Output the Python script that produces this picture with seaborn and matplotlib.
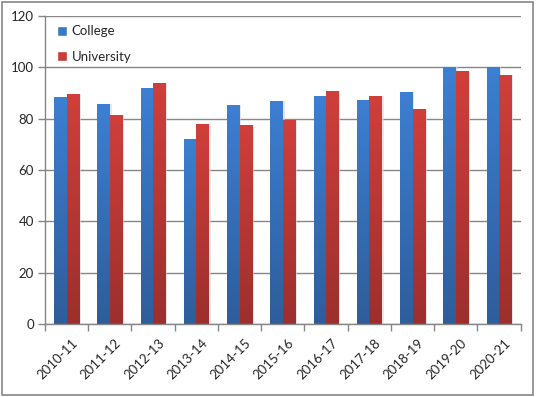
import numpy as np
import pandas as pd
import matplotlib
matplotlib.use("Agg")
import matplotlib.pyplot as plt
import seaborn as sns
from matplotlib.patches import Rectangle
from matplotlib.colors import LinearSegmentedColormap
from matplotlib.transforms import ScaledTranslation

# values
years = ["2010-11", "2011-12", "2012-13", "2013-14", "2014-15", "2015-16",
         "2016-17", "2017-18", "2018-19", "2019-20", "2020-21"]
college = [88.4, 85.7, 91.9, 72.1, 85.3, 86.9, 88.8, 87.3, 90.4, 100.0, 100.0]
university = [89.6, 81.4, 93.9, 77.9, 77.5, 79.6, 90.9, 88.8, 83.8, 98.6, 97.0]
series = ["College", "University"]

df = pd.DataFrame({
    "year": years * 2,
    "value": college + university,
    "group": ["College"] * len(years) + ["University"] * len(years),
})

sns.set_style("white")
plt.rcParams["font.family"] = ["Lato", "DejaVu Sans"]

grid_c = "#868686"
fig = plt.figure(figsize=(5.36, 3.97), dpi=100)
ax = fig.add_axes([45 / 536, 1 - 324 / 397, 475.7 / 536, 308 / 397])

sns.barplot(data=df, x="year", y="value", hue="group", order=years,
            hue_order=series, palette=["#3c7dd0", "#cf3d3a"], width=0.58,
            ax=ax, legend=False, saturation=1, linewidth=0)

# gradient fills (lighter on top, darker at the bottom), plus soft shadow
tops = {"College": ("#3d7fd3", "#2e5d9a"), "University": ("#d03f3b", "#9c2f2d")}
bars = list(ax.patches)
n = len(years)
for i, p in enumerate(bars):
    name = series[i // n]
    x0, y0 = p.get_x(), p.get_y()
    w, h = p.get_width(), p.get_height()
    sh = Rectangle((x0 + 0.04, y0), w, h, facecolor="#d8d8d8", alpha=0.6,
                   edgecolor="none", zorder=1.5)
    ax.add_patch(sh)
    cmap = LinearSegmentedColormap.from_list(name, [tops[name][1], tops[name][0]])
    grad = np.linspace(0, 1, 256).reshape(-1, 1)
    im = ax.imshow(grad, cmap=cmap, extent=[x0, x0 + w, y0, y0 + h],
                   origin="lower", aspect="auto", zorder=2.5)
    im.set_clip_path(p)
    p.set_facecolor("none")
    p.set_zorder(2.6)

ax.set_xlim(-0.5, n - 0.5)
ax.set_ylim(0, 120)
ax.set_yticks(range(0, 121, 20))
ax.yaxis.grid(True, color=grid_c, linewidth=1)
ax.set_axisbelow(True)
ax.set_xlabel("")
ax.set_ylabel("")

for s in ["top", "right"]:
    ax.spines[s].set_visible(False)
for s in ["left", "bottom"]:
    ax.spines[s].set_color(grid_c)
    ax.spines[s].set_linewidth(1)

ax.set_xticks(np.arange(-0.5, n, 1), minor=True)
ax.tick_params(axis="x", which="major", length=0, pad=9)
ax.tick_params(axis="x", which="minor", length=5, color=grid_c, width=1,
               direction="out", bottom=True)
ax.tick_params(axis="y", length=5, color=grid_c, width=1, direction="out",
               left=True, labelsize=9.5, pad=3)
ax.set_xticks(range(n))
ax.set_xticklabels(years, rotation=45, ha="right", rotation_mode="anchor",
                   fontsize=9.5)
shift = ScaledTranslation(5 / 100, 0, fig.dpi_scale_trans)
for lab in ax.get_xticklabels():
    lab.set_transform(lab.get_transform() + shift)

handles = [Rectangle((0, 0), 1, 1, facecolor=c) for c in ["#3a78c8", "#c83c39"]]
ax.legend(handles, series, loc="upper left", bbox_to_anchor=(0.0, 1.008),
          frameon=False, fontsize=9.5, handlelength=0.8, handleheight=0.8,
          handletextpad=0.3, labelspacing=1.0)

fig.patches.append(Rectangle((1.5 / 536, 2 / 397), 531.5 / 536, 393 / 397,
                             transform=fig.transFigure, fill=False,
                             edgecolor=grid_c, linewidth=1.2))

fig.savefig("out.png", dpi=100)
